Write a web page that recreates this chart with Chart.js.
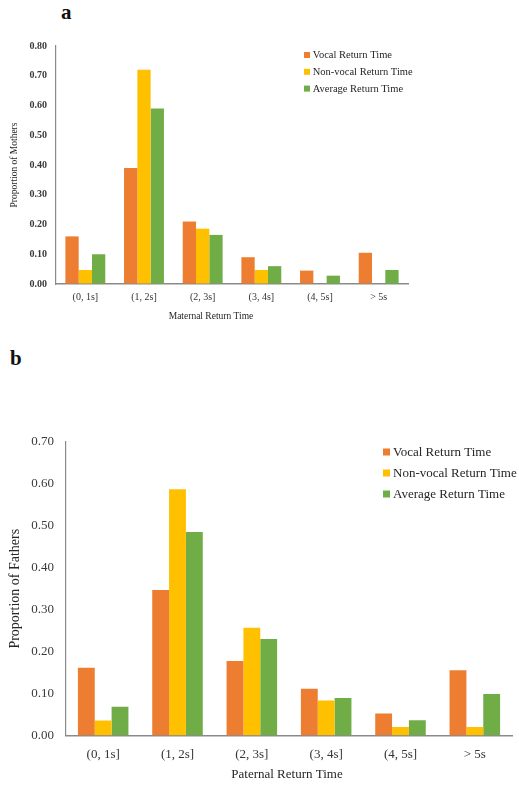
<!DOCTYPE html>
<html>
<head>
<meta charset="utf-8">
<script src="https://cdn.jsdelivr.net/npm/chart.js@4.4.0/dist/chart.umd.min.js"></script>
<style>
    body { margin: 0; background: #fff; }
    .panel { position: absolute; left: 0; width: 519px; }
    .tag { position: absolute; font: bold 21px 'Liberation Serif', 'Times New Roman', serif; line-height: 21px; color: #111; }
</style>
</head>
<body>
<div class="tag" style="left:61px; top:2px;">a</div>
<div class="panel" style="top:0; height:330px;"><canvas id="motherChart"></canvas></div>
<div class="tag" style="left:10px; top:348px;">b</div>
<div class="panel" style="top:340px; height:445px;"><canvas id="fatherChart"></canvas></div>

<script>
// Chart data
const categories = ['(0, 1s]', '(1, 2s]', '(2, 3s]', '(3, 4s]', '(4, 5s]', '> 5s'];
const seriesNames = ['Vocal Return Time', 'Non-vocal Return Time', 'Average Return Time'];

const motherVocal = [0.16, 0.39, 0.21, 0.09, 0.045, 0.105];
const motherNonVocal = [0.047, 0.72, 0.186, 0.047, 0, 0];
const motherAverage = [0.10, 0.59, 0.165, 0.06, 0.028, 0.047];

const fatherVocal = [0.162, 0.347, 0.178, 0.112, 0.053, 0.156];
const fatherNonVocal = [0.036, 0.587, 0.257, 0.084, 0.021, 0.021];
const fatherAverage = [0.069, 0.485, 0.23, 0.09, 0.037, 0.099];

const motherTicks = [0, 0.1, 0.2, 0.3, 0.4, 0.5, 0.6, 0.7, 0.8];
const fatherTicks = [0, 0.1, 0.2, 0.3, 0.4, 0.5, 0.6, 0.7];

const colors = ['#ED7D31', '#FFC000', '#70AD47'];
const serif = "'Liberation Serif', 'Times New Roman', serif";
const axisGray = '#8a8a8a';

// Legend + x title drawn over the plot, like the original figure
const overlayText = {
    id: 'overlayText',
    afterDraw(chart, args, opts) {
        const ctx = chart.ctx;
        ctx.save();
        ctx.textBaseline = 'middle';
        ctx.textAlign = 'left';
        ctx.font = opts.legendFont;
        ctx.fillStyle = '#262626';
        chart.data.datasets.forEach((ds, i) => {
            const y = opts.legendY + i * opts.legendGap;
            ctx.fillStyle = ds.backgroundColor;
            ctx.fillRect(opts.legendX, y - opts.box / 2, opts.box, opts.box);
            ctx.fillStyle = '#262626';
            ctx.fillText(ds.label, opts.legendX + opts.box + opts.textGap, y + 0.5);
        });
        ctx.textAlign = 'center';
        ctx.font = opts.titleFont;
        ctx.fillStyle = '#262626';
        ctx.fillText(opts.title, opts.titleX, opts.titleY);
        ctx.restore();
    }
};

function makeDatasets(a, b, c) {
    return [a, b, c].map((values, i) => ({
        label: seriesNames[i],
        data: values,
        backgroundColor: colors[i],
        borderWidth: 0,
        categoryPercentage: 0.68,
        barPercentage: 1.0
    }));
}

function initChart(id, cfg) {
    const ctx = document.getElementById(id);
    if (!ctx) return;

    new Chart(ctx, {
        type: 'bar',
        data: {
            labels: categories,
            datasets: makeDatasets(...cfg.series)
        },
        options: {
            responsive: true,
            maintainAspectRatio: false,
            animation: false,
            layout: { padding: cfg.padding },
            plugins: {
                legend: { display: false },
                tooltip: { enabled: false },
                overlayText: cfg.overlay
            },
            scales: {
                x: {
                    grid: { display: true, drawOnChartArea: false, drawTicks: false },
                    border: { color: axisGray, width: 1.5 },
                    ticks: {
                        font: { family: serif, size: cfg.xFontSize },
                        color: '#333',
                        padding: cfg.xPad,
                        maxRotation: 0,
                        autoSkip: false
                    },
                    afterFit: scale => { scale.height = cfg.xHeight; }
                },
                y: {
                    min: 0,
                    max: cfg.yTicks[cfg.yTicks.length - 1],
                    afterBuildTicks: scale => {
                        scale.ticks = cfg.yTicks.map(v => ({ value: v }));
                    },
                    grid: { display: true, drawOnChartArea: false, drawTicks: false },
                    border: { color: axisGray, width: 1.2 },
                    ticks: {
                        font: { family: serif, size: cfg.yFontSize, weight: cfg.yWeight },
                        color: '#3a3a3a',
                        padding: cfg.yPad,
                        callback: value => value.toFixed(2)
                    },
                    title: {
                        display: true,
                        text: cfg.yTitle,
                        font: { family: serif, size: cfg.yTitleSize },
                        color: '#262626',
                        padding: { top: cfg.yTitlePad, bottom: 0 }
                    },
                    afterFit: scale => { scale.width = cfg.yWidth; }
                }
            }
        },
        plugins: [overlayText]
    });
}

document.addEventListener('DOMContentLoaded', function () {
    initChart('motherChart', {
        series: [motherVocal, motherNonVocal, motherAverage],
        padding: { top: 46, right: 111, bottom: 0, left: 0 },
        yTicks: motherTicks,
        yWidth: 56,
        yPad: 9,
        yFontSize: 10,
        yWeight: 'bold',
        yTitle: 'Proportion of Mothers',
        yTitleSize: 9.5,
        yTitlePad: 9,
        xHeight: 46,
        xPad: 7,
        xFontSize: 10,
        overlay: {
            legendX: 304, legendY: 55, legendGap: 16.8, box: 6, textGap: 2.7,
            legendFont: '10.5px ' + serif,
            title: 'Maternal Return Time', titleX: 211, titleY: 316,
            titleFont: '9.5px ' + serif
        }
    });

    initChart('fatherChart', {
        series: [fatherVocal, fatherNonVocal, fatherAverage],
        padding: { top: 101.7, right: 7, bottom: 0, left: 0 },
        yTicks: fatherTicks,
        yWidth: 66,
        yPad: 12,
        yFontSize: 13,
        yWeight: 'normal',
        yTitle: 'Proportion of Fathers',
        yTitleSize: 14,
        yTitlePad: 6.6,
        xHeight: 49.3,
        xPad: 11,
        xFontSize: 13,
        overlay: {
            legendX: 383, legendY: 112, legendGap: 21, box: 7, textGap: 3,
            legendFont: '13px ' + serif,
            title: 'Paternal Return Time', titleX: 287, titleY: 435,
            titleFont: '13px ' + serif
        }
    });
});
</script>
</body>
</html>
